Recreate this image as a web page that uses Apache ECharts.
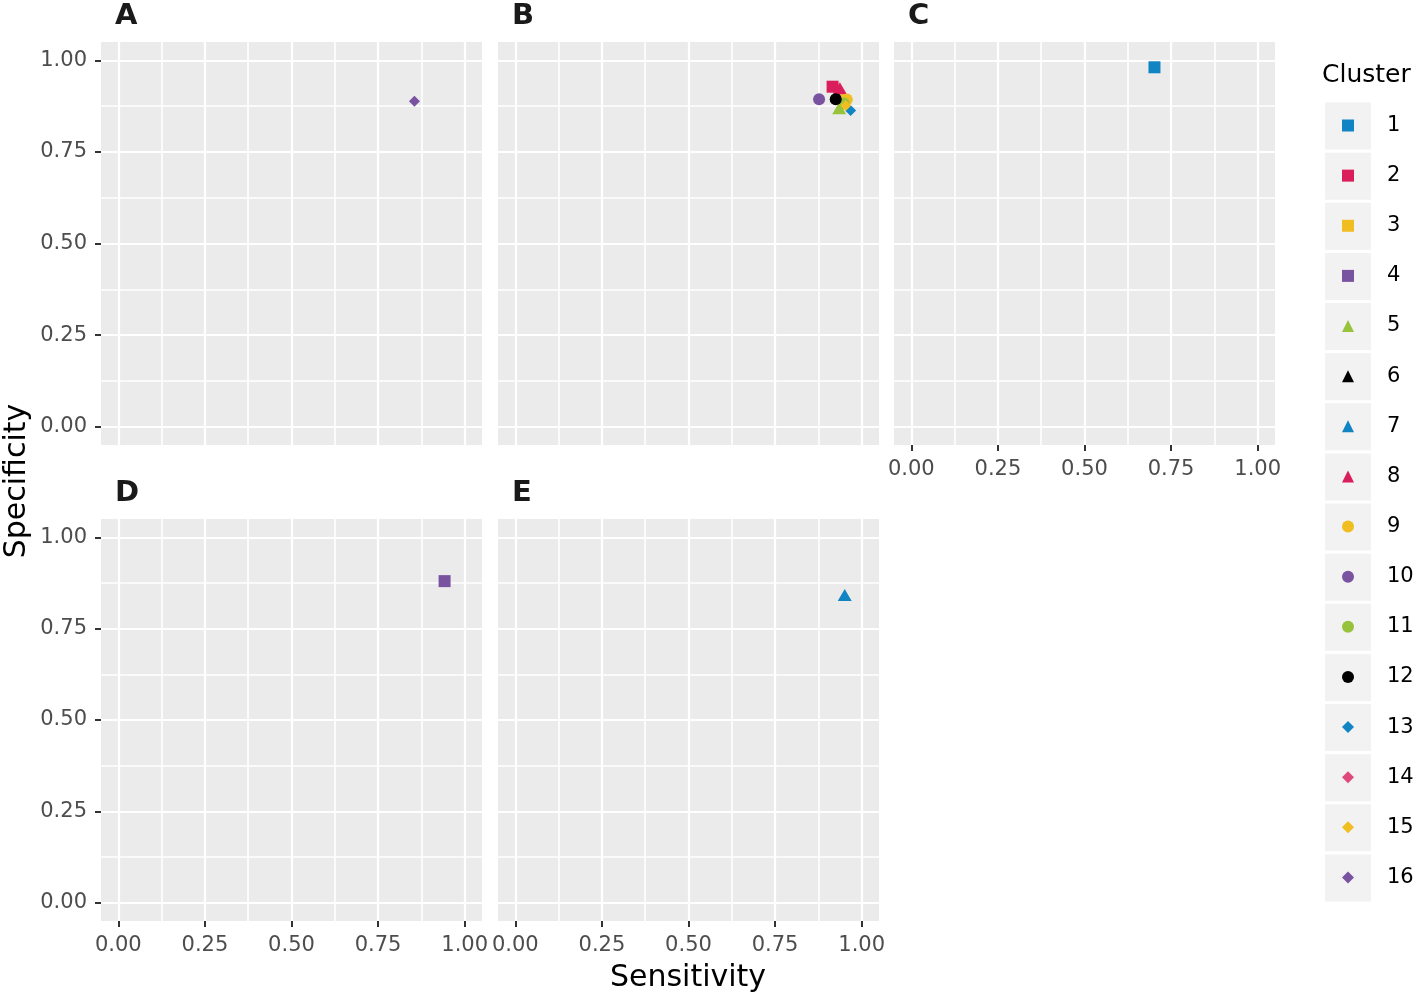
<!DOCTYPE html>
<html><head><meta charset="utf-8">
<script src="https://cdn.jsdelivr.net/npm/echarts@6/dist/echarts.min.js"></script>
<style>html,body{margin:0;padding:0;background:#fff}#c{width:1415px;height:998px}</style>
</head><body><div id="c"></div>
<script>
// ---- data ----
const clusters = ['1','2','3','4','5','6','7','8','9','10','11','12','13','14','15','16'];
const majorTicks = [0, 0.25, 0.5, 0.75, 1];
const minorTicks = [0.125, 0.375, 0.625, 0.875];
const tickLabels = ['0.00', '0.25', '0.50', '0.75', '1.00'];
const panelNames = ['A', 'B', 'C', 'D', 'E'];

const panelA_cluster = [16];
const panelA_sens    = [0.855];
const panelA_spec    = [0.888];

const panelB_cluster = [2, 3, 5, 6, 8, 9, 10, 11, 12, 13, 15];
const panelB_sens    = [0.916, 0.948, 0.935, 0.928, 0.937, 0.957, 0.877, 0.948, 0.925, 0.968, 0.954];
const panelB_spec    = [0.928, 0.891, 0.869, 0.904, 0.924, 0.893, 0.894, 0.882, 0.894, 0.863, 0.877];

const panelC_cluster = [1];
const panelC_sens    = [0.702];
const panelC_spec    = [0.981];

const panelD_cluster = [4];
const panelD_sens    = [0.942];
const panelD_spec    = [0.880];

const panelE_cluster = [7];
const panelE_sens    = [0.951];
const panelE_spec    = [0.842];

// ---- styling ----
const FONT = 'DejaVu Sans';
const palette = ['#1185C3', '#DA1D5B', '#F1BE22', '#7953A0', '#97C23C', '#000000'];
const shapeOf = c => (c <= 4 ? 'rect' : c <= 8 ? 'triangle' : c <= 12 ? 'circle' : 'diamond');
const sizeOf = s => (s === 'rect' ? 12 : s === 'triangle' ? [14, 12] : s === 'circle' ? 12 : [11, 11]);
const colorOf = c => palette[(c - 1) % 6];

const panelData = {
  A: [panelA_cluster, panelA_sens, panelA_spec],
  B: [panelB_cluster, panelB_sens, panelB_spec],
  C: [panelC_cluster, panelC_sens, panelC_spec],
  D: [panelD_cluster, panelD_sens, panelD_spec],
  E: [panelE_cluster, panelE_sens, panelE_spec]
};
const layout = {
  A: {left: 101, top: 42, width: 381, height: 403, showX: false, showY: true},
  B: {left: 498, top: 42, width: 381, height: 403, showX: false, showY: false},
  C: {left: 894, top: 42, width: 381, height: 403, showX: true, showY: false},
  D: {left: 101, top: 519, width: 381, height: 402, showX: true, showY: true},
  E: {left: 498, top: 519, width: 381, height: 402, showX: true, showY: false}
};

const grid = [], xAxis = [], yAxis = [], series = [], graphic = [];
const fmt = v => { const i = majorTicks.indexOf(v); return i >= 0 ? tickLabels[i] : v.toFixed(2); };

panelNames.forEach((p, i) => {
  const L = layout[p];
  grid.push({left: L.left, top: L.top, width: L.width, height: L.height, show: true,
    backgroundColor: '#EBEBEB', borderWidth: 0, containLabel: false, outerBoundsMode: 'none'});
  const majorX = {gridIndex: i, type: 'value', min: -0.05, max: 1.05, position: 'bottom',
    axisLine: {show: false, onZero: false},
    axisTick: {show: L.showX, customValues: majorTicks, length: 6, lineStyle: {color: '#333333', width: 2}},
    axisLabel: {show: L.showX, customValues: majorTicks, margin: 14, color: '#4D4D4D', fontSize: 21, fontFamily: FONT, formatter: fmt},
    splitLine: {show: true, lineStyle: {color: '#FFFFFF', width: 2.2}}};
  const minorX = {gridIndex: i, type: 'value', min: -0.05, max: 1.05, position: 'top',
    axisLine: {show: false, onZero: false}, axisTick: {show: false, customValues: minorTicks},
    axisLabel: {show: false, customValues: minorTicks},
    splitLine: {show: true, lineStyle: {color: '#FFFFFF', width: 1.6}}};
  const majorY = {gridIndex: i, type: 'value', min: -0.05, max: 1.05, position: 'left',
    axisLine: {show: false, onZero: false},
    axisTick: {show: L.showY, customValues: majorTicks, length: 6, lineStyle: {color: '#333333', width: 2}},
    axisLabel: {show: L.showY, customValues: majorTicks, margin: 14, color: '#4D4D4D', fontSize: 21, fontFamily: FONT, formatter: fmt},
    splitLine: {show: true, lineStyle: {color: '#FFFFFF', width: 2.2}}};
  const minorY = {gridIndex: i, type: 'value', min: -0.05, max: 1.05, position: 'right',
    axisLine: {show: false, onZero: false}, axisTick: {show: false, customValues: minorTicks},
    axisLabel: {show: false, customValues: minorTicks},
    splitLine: {show: true, lineStyle: {color: '#FFFFFF', width: 1.6}}};
  xAxis.push(majorX, minorX);
  yAxis.push(majorY, minorY);

  graphic.push({type: 'text', left: L.left + 14, top: L.top - 40,
    style: {text: p, fontSize: 29, fontWeight: 'bold', fontFamily: FONT, fill: '#1A1A1A'}});
});

// series: one per cluster per panel
clusters.forEach(name => {
  const c = +name;
  let used = false;
  panelNames.forEach((p, i) => {
    const [cl, sx, sy] = panelData[p];
    const pts = [];
    cl.forEach((k, j) => { if (k === c) pts.push([sx[j], sy[j]]); });
    if (pts.length) {
      used = true;
      series.push({type: 'scatter', name, xAxisIndex: 2 * i, yAxisIndex: 2 * i,
        symbol: shapeOf(c), symbolSize: sizeOf(shapeOf(c)),
        itemStyle: {color: colorOf(c), opacity: 1}, data: pts, z: 3});
    }
  });
  if (!used) {
    series.push({type: 'scatter', name, xAxisIndex: 0, yAxisIndex: 0,
      symbol: shapeOf(c), symbolSize: sizeOf(shapeOf(c)),
      itemStyle: {color: colorOf(c)}, data: []});
  }
});

// legend key backgrounds
const keyTop = 126, keyStep = 50.13;
clusters.forEach((n, i) => {
  graphic.push({type: 'rect', z: -10, shape: {x: 1325, y: keyTop + i * keyStep - 23.5, width: 46, height: 47},
    style: {fill: '#F2F2F2'}});
});
graphic.push({type: 'text', left: 1322, top: 63,
  style: {text: 'Cluster', fontSize: 25, fontFamily: FONT, fill: '#000'}});
graphic.push({type: 'text', x: 688, y: 978,
  style: {text: 'Sensitivity', fontSize: 30, fontFamily: FONT, fill: '#000', align: 'center', verticalAlign: 'middle'}});
graphic.push({type: 'text', x: 17, y: 481, rotation: Math.PI / 2,
  style: {text: 'Specificity', fontSize: 30, fontFamily: FONT, fill: '#000', align: 'center', verticalAlign: 'middle'}});

const chart = echarts.init(document.getElementById('c'), null, {renderer: 'canvas'});
chart.setOption({
  animation: false,
  backgroundColor: '#FFFFFF',
  grid, xAxis, yAxis, series, graphic,
  legend: {orient: 'vertical', left: 1342, top: 115, padding: 0, itemWidth: 12, itemHeight: 12,
    itemGap: 29.13, data: clusters,
    textStyle: {color: '#000', fontSize: 21, fontFamily: FONT, lineHeight: 21, padding: [0, 0, 0, 28]}}
});
</script></body></html>
